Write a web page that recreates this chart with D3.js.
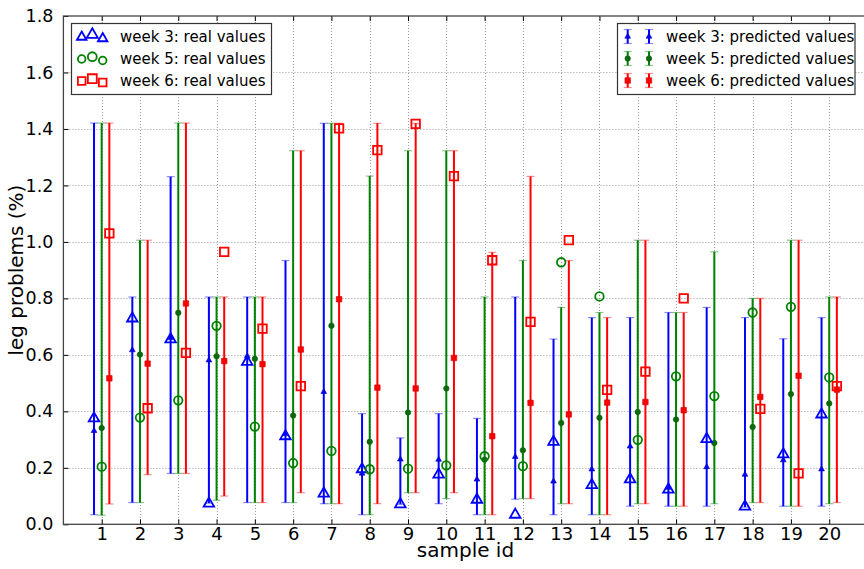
<!DOCTYPE html>
<html lang="en">
	<head>
		<meta charset="utf-8">
		<title>leg problems per sample</title>
		<script type="text/javascript" src="https://cdnjs.cloudflare.com/ajax/libs/d3/7.8.5/d3.min.js"></script>
		<style type="text/css">
			body { margin:0; background:#fff; }
			text { font-family:'DejaVu Sans', sans-serif; fill:#000; }
		</style>
	</head>
	<body>
		<script type="text/javascript">

			var w = 864;
			var h = 569;

			var sampleIds = d3.range(1,21)
			var yTicks = [0.0,0.2,0.4,0.6,0.8,1.0,1.2,1.4,1.6,1.8]

			// week 3
			var w3Pred = [.331,.617,.66,.581,.596,.32,.469,.18,.23,.229,.159,.239,.152,.195,.276,.13,.203,.176,.227,.195]
			var w3Lo   = [.034,.077,.18,.075,.077,.077,.073,.034,.071,.073,.034,.089,.034,.034,.064,.064,.064,.061,.064,.064]
			var w3Hi   = [1.421,.805,1.231,.805,.805,.934,1.42,.392,.306,.392,.375,.805,.656,.732,.732,.75,.768,.732,.657,.732]
			var w3Real = [.375,.729,.655,.073,.575,.312,.109,.195,.071,.176,.087,.034,.292,.139,.159,.123,.302,.063,.248,.389]

			// week 5
			var w5Pred = [.341,.601,.749,.595,.586,.385,.703,.292,.396,.481,.229,.262,.359,.377,.398,.371,.288,.345,.461,.428]
			var w5Lo   = [.032,.077,.18,.085,.077,.077,.073,.034,.112,.091,.034,.091,.073,.034,.073,.064,.073,.077,.064,.073]
			var w5Hi   = [1.421,1.006,1.421,.805,.805,1.323,1.42,1.233,1.323,1.323,.805,.934,.768,.75,1.006,.75,.965,.8,1.006,.805]
			var w5Real = [.204,.378,.439,.703,.346,.217,.26,.195,.197,.209,.241,.206,.928,.807,.299,.524,.454,.75,.77,.52]

			// week 6 (no value for sample 17)
			var w6Pred = [.517,.569,.782,.578,.567,.619,.797,.484,.481,.589,.312,.43,.389,.431,.433,.404,null,.451,.526,.477]
			var w6Lo   = [.072,.176,.18,.1,.077,.112,.073,.073,.112,.112,.034,.091,.073,.034,.073,.064,null,.077,.064,.077]
			var w6Hi   = [1.421,1.006,1.421,.805,.805,1.323,1.42,1.42,1.42,1.323,.963,1.232,.934,.732,1.006,.75,null,.8,1.006,.805]
			var w6Real = [1.03,.411,.607,.965,.693,.489,1.402,1.325,1.418,1.233,.935,.717,1.006,.476,.541,.8,null,.409,.18,.489]

			var weeks = [
				{name:'week 3', color:'#0000ff', dark:'#0000b0', shape:'tri', off:-0.2, pred:w3Pred, lo:w3Lo, hi:w3Hi, real:w3Real},
				{name:'week 5', color:'#008000', dark:'#0a5a0a', shape:'circ', off:0, pred:w5Pred, lo:w5Lo, hi:w5Hi, real:w5Real},
				{name:'week 6', color:'#ff0000', dark:'#cc0000', shape:'sq', off:0.2, pred:w6Pred, lo:w6Lo, hi:w6Hi, real:w6Real}
			]

			var pLeft = 63.4, pRight = 867.5, pTop = 16, pBottom = 524.3

			var xScale = d3.scaleLinear()
							.domain([0,21])
							.range([pLeft,pRight])

			var yScale = d3.scaleLinear()
							.domain([0,1.8])
							.range([pBottom,pTop])

			var svg = d3.select('body')
							.append('svg')
							.attr('width',w)
							.attr('height',h)

			// grid
			var grid = svg.append('g')
					.attr('stroke','#9a9a9a')
					.attr('stroke-width',1)
					.attr('stroke-dasharray','1,2')
			grid.selectAll('line.gx')
					.data(sampleIds)
					.enter()
					.append('line')
					.attr('x1',d=>Math.round(xScale(d))+0.5)
					.attr('x2',d=>Math.round(xScale(d))+0.5)
					.attr('y1',pTop)
					.attr('y2',pBottom)
			grid.selectAll('line.gy')
					.data(yTicks.slice(1,-1))
					.enter()
					.append('line')
					.attr('x1',pLeft)
					.attr('x2',pRight)
					.attr('y1',d=>Math.round(yScale(d))+0.5)
					.attr('y2',d=>Math.round(yScale(d))+0.5)

			function shapePath(shape,size){
				if(shape=='tri') return d3.symbol(d3.symbolTriangle, size*size*0.48)()
				if(shape=='circ') return d3.symbol(d3.symbolCircle, size*size*0.785)()
				return d3.symbol(d3.symbolSquare, size*size)()
			}

			// error bars
			weeks.forEach(function(wk){
				var idx = sampleIds.map((d,i)=>i).filter(i=>wk.pred[i]!=null)
				var g = svg.append('g')
				g.selectAll('line.bar')
					.data(idx)
					.enter()
					.append('line')
					.attr('x1',i=>xScale(sampleIds[i]+wk.off))
					.attr('x2',i=>xScale(sampleIds[i]+wk.off))
					.attr('y1',i=>yScale(wk.lo[i]))
					.attr('y2',i=>yScale(wk.hi[i]))
					.attr('stroke',wk.color)
					.attr('stroke-width',2)
				;['lo','hi'].forEach(function(k){
					g.selectAll('line.cap'+k)
						.data(idx)
						.enter()
						.append('line')
						.attr('x1',i=>xScale(sampleIds[i]+wk.off)-4)
						.attr('x2',i=>xScale(sampleIds[i]+wk.off)+4)
						.attr('y1',i=>yScale(wk[k][i]))
						.attr('y2',i=>yScale(wk[k][i]))
						.attr('stroke',wk.color)
						.attr('stroke-opacity',0.45)
						.attr('stroke-width',1.2)
				})
				g.selectAll('path.pred')
					.data(idx)
					.enter()
					.append('path')
					.attr('d',shapePath(wk.shape,5.5))
					.attr('transform',i=>`translate(${xScale(sampleIds[i]+wk.off)},${yScale(wk.pred[i])})`)
					.attr('fill',wk.shape=='circ' ? '#0b6b0b' : wk.color)
					.attr('stroke',wk.dark)
					.attr('stroke-width',0.6)
			})

			// real values
			weeks.forEach(function(wk){
				var idx = sampleIds.map((d,i)=>i).filter(i=>wk.real[i]!=null)
				svg.append('g')
					.selectAll('path')
					.data(idx)
					.enter()
					.append('path')
					.attr('d',shapePath(wk.shape, wk.shape=='tri' ? 10 : 8.5))
					.attr('transform',i=>`translate(${xScale(sampleIds[i]+wk.off)},${yScale(wk.real[i])})`)
					.attr('fill','none')
					.attr('stroke',wk.color)
					.attr('stroke-width',1.8)
			})

			// axes frame and ticks
			var yAxis = d3.axisLeft(yScale)
							.tickValues(yTicks)
							.tickFormat(d3.format('.1f'))
							.tickSizeInner(-5)
							.tickSizeOuter(0)
							.tickPadding(10)
			var xAxis = d3.axisBottom(xScale)
							.tickValues(sampleIds)
							.tickSizeInner(-5)
							.tickSizeOuter(0)
							.tickPadding(3)

			svg.append('g')
				.attr('transform',`translate(${pLeft},0)`)
				.call(yAxis)
				.call(g=>g.select('.domain').remove())
				.call(g=>g.selectAll('text').attr('font-size',17.5).attr('font-family','DejaVu Sans').attr('fill','#111'))

			svg.append('g')
				.attr('transform',`translate(0,${pBottom})`)
				.call(xAxis)
				.call(g=>g.select('.domain').remove())
				.call(g=>g.selectAll('text').attr('font-size',18).attr('font-family','DejaVu Sans').attr('fill','#111'))

			svg.append('g')
				.attr('transform',`translate(0,${pTop})`)
				.call(d3.axisTop(xScale).tickValues(sampleIds).tickSizeInner(-5).tickSizeOuter(0).tickFormat(''))
				.call(g=>g.select('.domain').remove())

			svg.append('rect')
				.attr('x',pLeft)
				.attr('y',pTop)
				.attr('width',pRight-pLeft)
				.attr('height',pBottom-pTop)
				.attr('fill','none')
				.attr('stroke','#444')
				.attr('stroke-width',1.3)

			svg.append('text')
				.attr('x',(pLeft+pRight)/2)
				.attr('y',557)
				.attr('text-anchor','middle')
				.attr('font-size',20)
				.text('sample id')

			svg.append('text')
				.attr('transform',`translate(23,${(pTop+pBottom)/2}) rotate(-90)`)
				.attr('text-anchor','middle')
				.attr('font-size',20)
				.text('leg problems (%)')

			// legend: real values
			var lgL = svg.append('g')
			lgL.append('rect')
				.attr('x',71.5).attr('y',23.5).attr('width',200).attr('height',71)
				.attr('fill','#fff').attr('stroke','#333').attr('stroke-width',1.2)
			var jitter = [[81.7,0.9,0.5],[92.3,1.05,-1.8],[102.7,0.9,2]]
			weeks.forEach(function(wk,r){
				var cy = 36.5 + r*22
				jitter.forEach(function(j){
					lgL.append('path')
						.attr('d',shapePath(wk.shape,(wk.shape=='tri' ? 10 : 8.5)*j[1]))
						.attr('transform',`translate(${j[0]},${cy+j[2]})`)
						.attr('fill','none')
						.attr('stroke',wk.color)
						.attr('stroke-width',1.8)
				})
				lgL.append('text')
					.attr('x',120)
					.attr('y',cy)
					.attr('dy','0.35em')
					.attr('font-size',15)
					.attr('fill','#111')
					.text(wk.name+': real values')
			})

			// legend: predicted values
			var lgR = svg.append('g')
			lgR.append('rect')
				.attr('x',617.5).attr('y',23.5).attr('width',237.5).attr('height',71)
				.attr('fill','#fff').attr('stroke','#333').attr('stroke-width',1.2)
			weeks.forEach(function(wk,r){
				var cy = 36.5 + r*22
				;[627.7,649].forEach(function(cx){
					lgR.append('line')
						.attr('x1',cx).attr('x2',cx).attr('y1',cy-7).attr('y2',cy+7)
						.attr('stroke',wk.color).attr('stroke-width',2)
					;[-7,7].forEach(function(o){
						lgR.append('line')
							.attr('x1',cx-4).attr('x2',cx+4).attr('y1',cy+o).attr('y2',cy+o)
							.attr('stroke',wk.color).attr('stroke-opacity',0.45).attr('stroke-width',1.2)
					})
					lgR.append('path')
						.attr('d',shapePath(wk.shape,5.5))
						.attr('transform',`translate(${cx},${cy})`)
						.attr('fill',wk.shape=='circ' ? '#0b6b0b' : wk.color)
						.attr('stroke',wk.dark)
						.attr('stroke-width',0.6)
				})
				lgR.append('text')
					.attr('x',666)
					.attr('y',cy)
					.attr('dy','0.35em')
					.attr('font-size',15)
					.attr('fill','#111')
					.text(wk.name+': predicted values')
			})
		</script>
	</body>
</html>
